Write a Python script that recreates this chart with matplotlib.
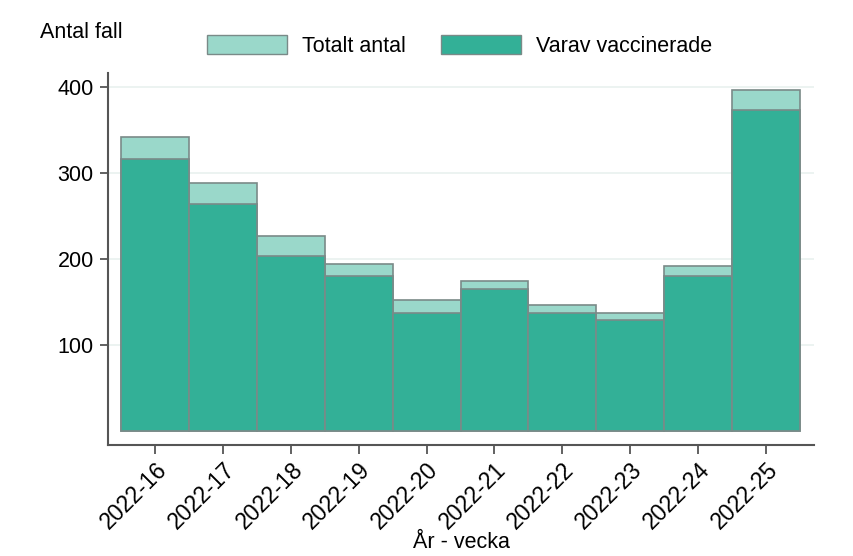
import matplotlib
matplotlib.use("Agg")
import matplotlib.pyplot as plt
from matplotlib.patches import Patch

plt.rcParams['font.family'] = ['Liberation Sans', 'DejaVu Sans']

weeks = ["2022-16", "2022-17", "2022-18", "2022-19", "2022-20",
         "2022-21", "2022-22", "2022-23", "2022-24", "2022-25"]
totalt = [342, 289, 227, 194, 153, 175, 147, 137, 192, 397]
vaccinerade = [317, 264, 204, 181, 137, 166, 137, 129, 181, 374]

light = "#9ad8ca"
dark = "#33b097"
edge = "#7a8a88"
axcol = "#555555"
fs = 15.5

fig = plt.figure(figsize=(8.54, 5.56), dpi=100)
ax = fig.add_axes([0.1261, 0.1996, 0.8271, 0.6691])

x = list(range(len(weeks)))
ax.bar(x, totalt, width=1.0, color=light, edgecolor=edge, linewidth=1.2, label="Totalt antal", zorder=2)
ax.bar(x, vaccinerade, width=1.0, color=dark, edgecolor=edge, linewidth=1.2, label="Varav vaccinerade", zorder=3)

ax.set_xlim(-0.70, 9.71)
ax.set_ylim(-16, 416.6)
ax.set_yticks([100, 200, 300, 400])
ax.set_xticks(x)
ax.set_xticklabels(weeks, rotation=45, ha="right", rotation_mode="anchor", fontsize=16.5)
ax.tick_params(axis="y", labelsize=fs, length=6, width=1.3, color=axcol, pad=4)
ax.tick_params(axis="x", length=6.5, width=1.3, color=axcol, pad=3)
ax.grid(axis="y", color="#eaf2f0", linewidth=1.3, zorder=0)
ax.set_axisbelow(True)
for s in ["top", "right"]:
    ax.spines[s].set_visible(False)
for s in ["left", "bottom"]:
    ax.spines[s].set_color(axcol)
    ax.spines[s].set_linewidth(1.5)

fig.text(0.540, 0.0144, "År - vecka", fontsize=fs, ha="center", va="baseline")
fig.text(0.047, 0.9317, "Antal fall", fontsize=fs, va="baseline", ha="left")

handles = [Patch(facecolor=light, edgecolor=edge, label="Totalt antal"),
           Patch(facecolor=dark, edgecolor=edge, label="Varav vaccinerade")]
fig.legend(handles=handles, loc="center", bbox_to_anchor=(0.538, 0.917), ncol=2,
           frameon=False, fontsize=fs, handlelength=3.72, handleheight=1.0,
           columnspacing=1.63, handletextpad=0.7, borderpad=0.2)

fig.savefig("out.png", dpi=100)
